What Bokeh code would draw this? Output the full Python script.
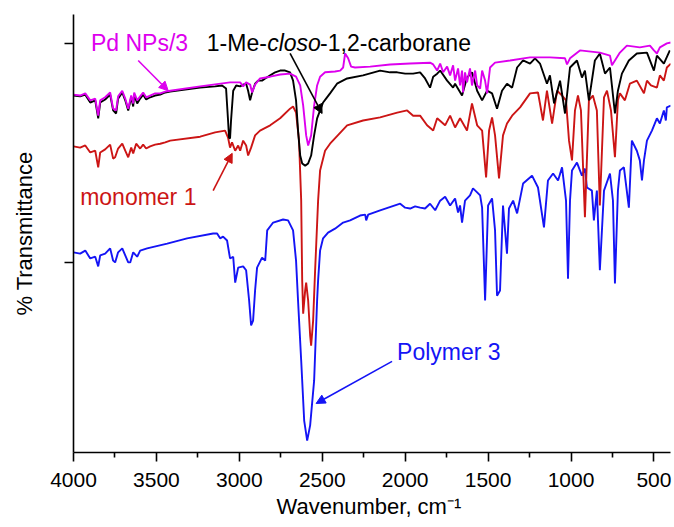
from bokeh.plotting import figure
from bokeh.models import Range1d, FixedTicker, Label, Arrow, NormalHead, CustomJSTickFormatter
from bokeh.embed import file_html
from bokeh.resources import INLINE

# ---------------- data (wavenumber cm-1, transmittance a.u., offset-stacked) ----------------
X_TICKS = [4000, 3500, 3000, 2500, 2000, 1500, 1000, 500]
X_MINOR = [3750, 3250, 2750, 2250, 1750, 1250, 750]
Y_TICKS = [93.45, 43.45]

PD_NPS = [(4000, 81.7), (3960, 81.5), (3929, 82.0), (3899, 80.4), (3869, 80.8), (3851, 76.9), (3839, 80.4),
          (3809, 81.1), (3779, 82.2), (3761, 78.5), (3743, 78.1), (3731, 81.3), (3706, 82.6), (3688, 80.8),
          (3670, 78.5), (3652, 81.5), (3640, 79.7), (3634, 82.2), (3616, 80.4), (3598, 81.3), (3580, 82.2),
          (3562, 81.1), (3538, 81.5), (3508, 82.0), (3477, 82.0), (3447, 82.4), (3417, 82.6), (3236, 83.6),
          (3056, 84.5), (2995, 84.5), (2977, 83.6), (2959, 84.5), (2935, 84.0), (2923, 82.2), (2905, 84.0),
          (2875, 85.4), (2814, 85.8), (2754, 86.3), (2694, 86.5), (2658, 85.8), (2633, 83.8), (2615, 79.2),
          (2597, 72.4), (2585, 70.1), (2567, 72.4), (2549, 79.2), (2531, 83.8), (2513, 85.8), (2483, 86.8),
          (2423, 87.0), (2392, 87.2), (2374, 87.9), (2362, 91.1), (2344, 90.0), (2326, 88.1), (2302, 87.9),
          (2211, 88.1), (2091, 88.6), (1970, 88.8), (1850, 89.0), (1831, 88.6), (1807, 87.2), (1789, 88.8),
          (1771, 86.8), (1747, 88.1), (1729, 86.1), (1711, 88.4), (1699, 84.9), (1681, 87.7), (1669, 83.8),
          (1657, 87.2), (1651, 82.2), (1639, 86.8), (1627, 84.5), (1609, 87.7), (1597, 83.8), (1578, 87.2),
          (1566, 83.8), (1548, 83.1), (1536, 87.2), (1518, 84.9), (1506, 82.0), (1488, 87.9), (1458, 89.0),
          (1367, 89.5), (1247, 90.2), (1127, 90.2), (1036, 90.0), (1024, 88.6), (1006, 90.0), (946, 91.8),
          (826, 91.3), (765, 90.6), (753, 88.4), (735, 89.5), (705, 91.3), (663, 92.9), (585, 92.5),
          (524, 92.9), (500, 91.8), (482, 91.1), (464, 92.5), (422, 93.4), (398, 93.6)]

CARBORANE = [(4000, 81.5), (3960, 81.3), (3929, 81.7), (3899, 79.9), (3869, 80.4), (3851, 76.3), (3839, 79.9),
             (3809, 80.6), (3779, 81.7), (3761, 78.1), (3743, 77.4), (3731, 80.8), (3706, 82.2), (3688, 80.4),
             (3670, 78.1), (3652, 81.1), (3640, 79.0), (3634, 81.7), (3616, 79.7), (3598, 80.8), (3580, 81.7),
             (3562, 80.6), (3538, 81.1), (3508, 81.5), (3477, 81.7), (3447, 82.2), (3417, 82.4), (3236, 83.3),
             (3146, 83.6), (3104, 83.8), (3080, 83.1), (3068, 75.8), (3062, 71.9), (3056, 71.7), (3050, 75.8),
             (3037, 82.6), (3019, 83.8), (2995, 83.6), (2977, 84.0), (2959, 84.2), (2947, 82.6), (2935, 80.4),
             (2923, 82.2), (2905, 84.2), (2887, 84.9), (2863, 84.9), (2844, 85.4), (2814, 86.1), (2784, 86.8),
             (2754, 87.2), (2724, 87.2), (2694, 86.8), (2676, 84.9), (2658, 80.4), (2646, 73.5), (2633, 67.8),
             (2621, 66.0), (2603, 65.5), (2585, 66.0), (2567, 67.8), (2549, 72.4), (2531, 76.3), (2513, 78.1),
             (2495, 79.9), (2477, 80.8), (2453, 82.0), (2411, 84.2), (2350, 85.4), (2254, 86.1), (2151, 87.2),
             (2091, 86.8), (2048, 86.8), (2000, 86.5), (1952, 86.5), (1910, 86.8), (1880, 85.4), (1850, 83.3),
             (1831, 85.8), (1807, 86.5), (1789, 87.2), (1747, 84.9), (1711, 83.3), (1699, 84.2), (1657, 81.5),
             (1627, 85.6), (1597, 86.8), (1566, 82.6), (1536, 80.4), (1506, 82.6), (1476, 82.0), (1446, 78.5),
             (1416, 82.6), (1386, 84.2), (1355, 83.3), (1325, 87.9), (1289, 89.5), (1247, 88.8), (1217, 90.0),
             (1187, 88.8), (1145, 84.2), (1127, 86.1), (1102, 79.7), (1066, 84.9), (1036, 77.4), (1006, 87.9),
             (964, 89.5), (934, 85.6), (916, 87.2), (892, 80.4), (856, 89.5), (826, 91.1), (795, 86.5),
             (765, 87.9), (735, 77.4), (717, 82.6), (693, 86.5), (651, 89.5), (603, 91.1), (542, 91.3),
             (500, 87.2), (482, 90.6), (440, 88.8), (404, 91.8)]

MONOMER = [(4000, 69.9), (3960, 69.6), (3929, 70.1), (3899, 68.5), (3869, 68.9), (3851, 65.1), (3839, 68.5),
           (3809, 69.2), (3779, 70.3), (3761, 67.1), (3749, 67.4), (3731, 69.4), (3706, 70.5), (3688, 68.9),
           (3670, 67.4), (3652, 69.6), (3640, 68.3), (3622, 70.5), (3598, 69.4), (3580, 70.3), (3562, 69.4),
           (3538, 69.9), (3508, 70.3), (3477, 70.5), (3447, 70.8), (3417, 71.2), (3236, 72.1), (3146, 73.1),
           (3086, 73.5), (3068, 71.9), (3056, 69.6), (3044, 70.8), (3025, 68.9), (3007, 70.1), (2995, 68.9),
           (2977, 71.2), (2959, 70.1), (2947, 67.8), (2929, 69.6), (2905, 72.4), (2875, 73.5), (2814, 74.7),
           (2754, 76.3), (2694, 78.5), (2676, 79.0), (2658, 77.6), (2640, 71.2), (2627, 57.5), (2621, 39.3),
           (2615, 31.7), (2603, 37.0), (2597, 38.8), (2585, 34.7), (2573, 26.7), (2567, 24.4), (2555, 30.1),
           (2543, 41.6), (2525, 57.5), (2513, 64.4), (2483, 68.9), (2453, 70.5), (2350, 74.7), (2254, 75.8),
           (2151, 76.5), (2048, 77.6), (1988, 78.1), (1952, 76.9), (1910, 76.9), (1868, 74.7), (1831, 73.5),
           (1807, 76.3), (1759, 74.7), (1729, 76.9), (1699, 74.2), (1669, 76.3), (1627, 73.5), (1597, 79.7),
           (1566, 74.7), (1536, 73.5), (1512, 62.8), (1494, 73.5), (1476, 76.5), (1458, 72.4), (1434, 62.6),
           (1410, 72.4), (1386, 75.1), (1355, 76.9), (1307, 78.8), (1247, 82.0), (1199, 82.2), (1169, 75.8),
           (1145, 82.6), (1114, 75.1), (1084, 82.6), (1054, 81.5), (1030, 80.4), (1012, 71.2), (994, 66.7),
           (976, 78.1), (958, 81.5), (940, 78.1), (916, 53.7), (892, 80.4), (868, 81.5), (844, 78.1),
           (826, 56.4), (801, 81.1), (783, 82.6), (759, 78.1), (735, 67.4), (717, 80.4), (705, 82.0),
           (675, 80.4), (645, 84.2), (603, 84.9), (560, 82.0), (542, 84.9), (518, 83.8), (482, 83.3),
           (464, 86.1), (440, 84.9), (422, 87.9), (398, 88.8)]

POLYMER = [(4000, 45.7), (3960, 45.4), (3929, 46.1), (3899, 44.3), (3869, 44.7), (3851, 42.5), (3839, 45.0),
           (3809, 45.4), (3779, 46.6), (3761, 43.8), (3749, 43.4), (3731, 45.7), (3706, 46.6), (3688, 45.0),
           (3670, 43.4), (3658, 43.4), (3640, 45.7), (3616, 44.7), (3598, 46.1), (3556, 46.6), (3435, 47.7),
           (3315, 48.9), (3158, 50.0), (3134, 50.0), (3116, 48.9), (3098, 49.3), (3074, 48.4), (3056, 44.3),
           (3037, 44.7), (3025, 38.8), (3007, 42.2), (2977, 42.5), (2959, 41.6), (2941, 34.7), (2929, 29.0),
           (2917, 30.1), (2905, 37.0), (2893, 42.2), (2863, 44.5), (2844, 43.8), (2832, 50.7), (2796, 52.5),
           (2736, 53.2), (2706, 53.0), (2676, 50.7), (2658, 43.8), (2646, 34.7), (2627, 21.0), (2609, 7.3),
           (2591, 2.7), (2573, 6.2), (2549, 16.4), (2531, 34.7), (2525, 39.3), (2513, 46.1), (2495, 48.9),
           (2465, 50.2), (2423, 51.1), (2374, 52.5), (2332, 53.0), (2272, 54.1), (2241, 54.3), (2235, 53.0),
           (2223, 54.3), (2151, 55.3), (2030, 56.8), (2000, 55.9), (1970, 55.7), (1940, 56.2), (1910, 55.9),
           (1880, 55.7), (1850, 56.8), (1819, 55.3), (1789, 57.5), (1759, 58.4), (1729, 56.4), (1699, 58.0),
           (1681, 54.8), (1669, 56.4), (1657, 52.5), (1639, 57.5), (1609, 58.7), (1591, 60.3), (1566, 59.4),
           (1548, 58.7), (1536, 55.9), (1518, 34.7), (1500, 56.4), (1476, 58.0), (1458, 50.7), (1446, 35.8),
           (1428, 37.0), (1410, 56.4), (1386, 45.4), (1374, 55.7), (1349, 57.5), (1325, 54.6), (1289, 61.4),
           (1235, 63.2), (1199, 60.5), (1163, 51.4), (1139, 62.1), (1108, 63.7), (1078, 62.1), (1054, 65.1),
           (1030, 57.5), (1018, 39.7), (1006, 57.5), (994, 64.4), (964, 66.2), (934, 63.2), (916, 64.8),
           (904, 60.5), (874, 59.8), (862, 53.0), (844, 59.8), (826, 41.6), (801, 59.8), (765, 63.7),
           (747, 57.5), (735, 38.6), (717, 59.8), (705, 64.4), (681, 65.1), (651, 55.9), (633, 71.2),
           (603, 68.9), (585, 66.7), (572, 62.1), (560, 66.7), (542, 71.2), (512, 73.5), (482, 76.3),
           (464, 75.1), (440, 78.1), (428, 75.8), (422, 78.8), (398, 79.2)]

MAGENTA = "#DD00EE"
BLACK = "#000000"
RED = "#CC1515"
BLUE = "#1414F5"
FONT = "Liberation Sans"

p = figure(width=672, height=527, x_range=Range1d(4000, 400), y_range=Range1d(0, 100),
           output_backend="svg", toolbar_location=None,
           min_border_left=73, min_border_right=2, min_border_top=14, min_border_bottom=75)
p.outline_line_color = None
p.grid.visible = False
p.background_fill_color = "white"

for series, color in [(POLYMER, BLUE), (MONOMER, RED), (CARBORANE, BLACK), (PD_NPS, MAGENTA)]:
    xs = [a for a, b in series]
    ys = [b for a, b in series]
    p.line(xs, ys, line_color=color, line_width=1.9)

# axes
xa = p.xaxis[0]
xa.ticker = FixedTicker(ticks=X_TICKS, minor_ticks=X_MINOR)
xa.axis_line_width = 1.6
xa.major_tick_line_width = 1.6
xa.minor_tick_line_width = 1.6
xa.major_tick_out = 9
xa.major_tick_in = 0
xa.minor_tick_out = 5
xa.minor_tick_in = 0
xa.major_label_text_font = FONT
xa.major_label_text_font_size = "21px"
xa.major_label_text_color = "black"
xa.major_label_standoff = 11
xa.axis_label = "Wavenumber,  cm\u207b\u00b9"
xa.axis_label_text_font = FONT
xa.axis_label_text_font_size = "22px"
xa.axis_label_text_font_style = "normal"
xa.axis_label_text_color = "black"
xa.axis_label_standoff = 4

ya = p.yaxis[0]
ya.ticker = FixedTicker(ticks=Y_TICKS, minor_ticks=[])
ya.formatter = CustomJSTickFormatter(code="return ''")
ya.axis_line_width = 1.6
ya.major_tick_line_width = 1.6
ya.major_tick_out = 9
ya.major_tick_in = 0
ya.minor_tick_out = 0
ya.minor_tick_in = 0
ya.major_label_standoff = 0
ya.axis_label = "% Transmittance"
ya.axis_label_text_font = FONT
ya.axis_label_text_font_size = "22px"
ya.axis_label_text_font_style = "normal"
ya.axis_label_text_color = "black"
ya.axis_label_standoff = 28

# annotations
def add_label(x, y, text, color, style="normal"):
    p.add_layout(Label(x=x, y=y, text=text, text_color=color, text_font=FONT,
                       text_font_size="23px", text_font_style=style,
                       text_baseline="alphabetic", text_align="left"))

add_label(3895, 93.5, "Pd NPs/3", MAGENTA)
add_label(3196, 93.5, "1-Me-", BLACK)
add_label(2832, 93.5, "closo", BLACK, "italic")
add_label(2513, 93.5, "-1,2-carborane", BLACK)
add_label(3960, 58.3, "monomer 1", RED)
add_label(2049, 22.9, "Polymer 3", BLUE)

def add_arrow(x0, y0, x1, y1, color):
    p.add_layout(Arrow(end=NormalHead(size=9, fill_color=color, line_color=color),
                       x_start=x0, y_start=y0, x_end=x1, y_end=y1,
                       line_color=color, line_width=1.6))

add_arrow(3610, 89.5, 3429, 82.6, MAGENTA)
add_arrow(2694, 91.1, 2501, 77.4, BLACK)
add_arrow(3158, 59.8, 3043, 68.3, RED)
add_arrow(2079, 20.8, 2537, 11.2, BLUE)

open("out.html", "w").write(file_html(p, INLINE))
